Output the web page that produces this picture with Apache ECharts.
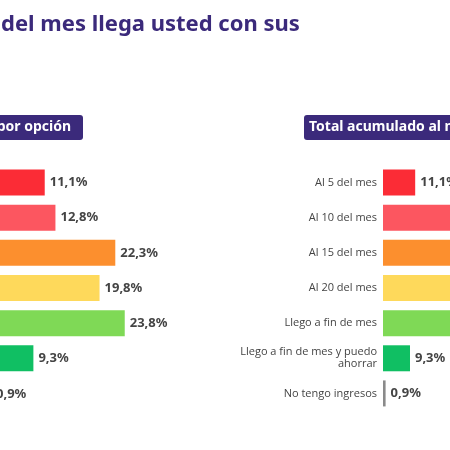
<!DOCTYPE html><html><head><meta charset="utf-8"><script src="https://cdn.jsdelivr.net/npm/echarts@6/dist/echarts.min.js"></script>
<style>html,body{margin:0;padding:0;background:#fff}#c{width:450px;height:450px}</style></head><body><div id="c"></div>
<script>
const categories=["Al 5 del mes","Al 10 del mes","Al 15 del mes","Al 20 del mes","Llego a fin de mes","Llego a fin de mes y puedo\nahorrar","No tengo ingresos"];
const porOpcion=[11.1,12.8,22.3,19.8,23.8,9.3,0.9];
const acumulado=[11.1,23.9,46.2,66.0,89.8,9.3,0.9];
const colors=["#fb2c36","#fc5660","#fc8f2e","#fed95b","#7fd956","#10bf63","#8a8a8a"];
const fmt=v=>v.toFixed(1).replace('.',',')+'%';
const chart=echarts.init(document.getElementById('c'));
const lab={show:true,position:'right',distance:5,color:'#444',fontSize:13,fontWeight:'bold',fontFamily:'Noto Sans',formatter:p=>fmt(p.value)};
const rMax=23.1;
chart.setOption({
 animation:false,
 grid:[{left:0,top:165,width:189,height:246},{left:383,top:165,width:67,height:246}],
 xAxis:[{gridIndex:0,type:'value',min:4,max:34,show:false},{gridIndex:1,type:'value',min:0,max:rMax,show:false}],
 yAxis:[{gridIndex:0,type:'category',data:categories,inverse:true,axisLine:{show:false},axisTick:{show:false},axisLabel:{show:false}},
  {gridIndex:1,type:'category',data:categories,inverse:true,axisLine:{show:false},axisTick:{show:false},axisLabel:{color:'#444',fontSize:11,fontFamily:'Open Sans',lineHeight:12,margin:6,align:'right'}}],
 series:[{type:'bar',xAxisIndex:0,yAxisIndex:0,barWidth:26,data:porOpcion.map((v,i)=>({value:v,itemStyle:{color:colors[i]},label:{show:v>4}})),label:lab},
  {type:'bar',xAxisIndex:1,yAxisIndex:1,barWidth:26,data:acumulado.map((v,i)=>({value:v,itemStyle:{color:colors[i]},label:{show:v<rMax/2}})),label:lab}],
 graphic:[
  {type:'text',left:1,top:14,style:{text:'del mes llega usted con sus',fill:'#3b2a7b',font:'bold 22px "Noto Sans"'}},
  {type:'rect',shape:{x:-10,y:115,width:93,height:25,r:3},style:{fill:'#3b2a7b'}},
  {type:'text',x:71,y:127.5,style:{text:'Total por opción',fill:'#fff',font:'bold 14px "Noto Sans"',align:'right',verticalAlign:'middle'}},
  {type:'text',x:-4,y:394,style:{text:'0,9%',fill:'#444',font:'bold 13px "Noto Sans"',align:'left',verticalAlign:'middle'}},
  {type:'rect',shape:{x:304,y:115,width:160,height:25,r:3},style:{fill:'#3b2a7b'}},
  {type:'text',x:309,y:127.5,style:{text:'Total acumulado al mes',fill:'#fff',font:'bold 14px "Noto Sans"',align:'left',verticalAlign:'middle'}}
 ]
});
</script></body></html>
